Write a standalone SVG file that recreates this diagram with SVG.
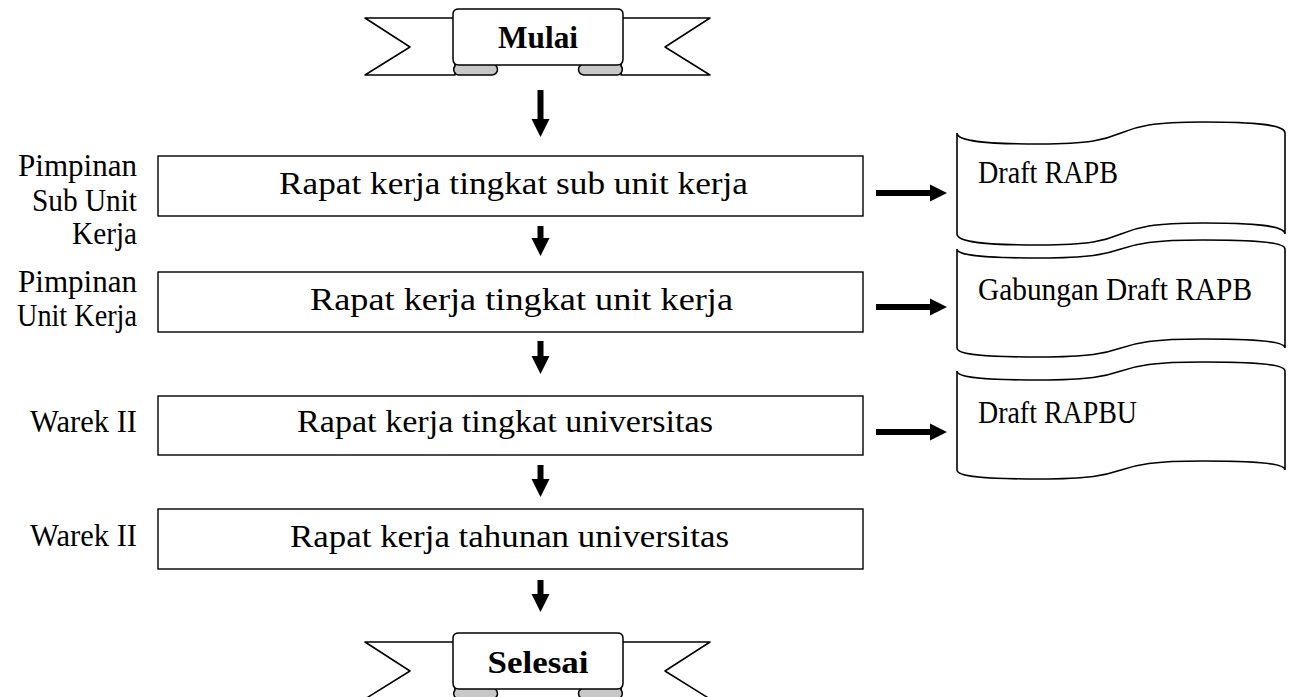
<svg xmlns="http://www.w3.org/2000/svg" width="1293" height="697" viewBox="0 0 1293 697">
<style>
text{font-family:"Liberation Serif","DejaVu Serif",serif;fill:#000}
.t{font-size:32px}
.lb{font-size:32px;text-anchor:end}
.b{font-size:32px;font-weight:bold;text-anchor:middle}
.box{fill:#fff;stroke:#000;stroke-width:1.4}
.doc{fill:#fff;stroke:#000;stroke-width:1.6}
.rib{fill:#fff;stroke:#000;stroke-width:1.5;stroke-linejoin:round}
.fold{fill:#c8c8c8;stroke:#000;stroke-width:1.5}
.arr{fill:#000}
</style>
<defs>
<g id="ribbon">
<path class="rib" d="M365,18 L455,18 L455,75 L365,75 L410,47 Z"/>
<path class="rib" d="M710,18 L621,18 L621,75 L710,75 L665,47 Z"/>
<path class="fold" d="M455,64 L492,64 A5.5,5.5 0 0 1 492,75 L459,75 A5.5,5.5 0 0 1 455,66 Z"/>
<path class="fold" d="M621,64 L584,64 A5.5,5.5 0 0 0 584,75 L617,75 A5.5,5.5 0 0 0 621,66 Z"/>
<path class="rib" d="M453,14 Q453,9 459,9 L617,9 Q623,9 623,14 L623,59 Q623,65 617,65 L459,65 Q453,65 453,59 Z"/>
</g>
</defs>

<g id="start">
<use href="#ribbon"/>
<text class="b" x="538" y="48" textLength="80" lengthAdjust="spacingAndGlyphs">Mulai</text>
</g>

<g id="end">
<use href="#ribbon" transform="translate(0,624)"/>
<text class="b" x="538" y="673" textLength="101" lengthAdjust="spacingAndGlyphs">Selesai</text>
</g>

<g id="step1">
<rect class="box" x="158" y="156" width="705" height="60"/>
<text class="t" x="279" y="194" textLength="469" lengthAdjust="spacingAndGlyphs">Rapat kerja tingkat sub unit kerja</text>
</g>
<g id="label1">
<text class="lb" x="137" y="176" textLength="119" lengthAdjust="spacingAndGlyphs">Pimpinan</text>
<text class="lb" x="137" y="211" textLength="105" lengthAdjust="spacingAndGlyphs">Sub Unit</text>
<text class="lb" x="137" y="244" textLength="65" lengthAdjust="spacingAndGlyphs">Kerja</text>
</g>

<g id="step2">
<rect class="box" x="158" y="272" width="705" height="60"/>
<text class="t" x="310" y="310" textLength="423" lengthAdjust="spacingAndGlyphs">Rapat kerja tingkat unit kerja</text>
</g>
<g id="label2">
<text class="lb" x="137" y="292" textLength="119" lengthAdjust="spacingAndGlyphs">Pimpinan</text>
<text class="lb" x="137" y="326" textLength="120" lengthAdjust="spacingAndGlyphs">Unit Kerja</text>
</g>

<g id="step3">
<rect class="box" x="158" y="396" width="705" height="59"/>
<text class="t" x="297" y="432" textLength="416" lengthAdjust="spacingAndGlyphs">Rapat kerja tingkat universitas</text>
</g>
<g id="label3">
<text class="lb" x="137" y="432" textLength="107" lengthAdjust="spacingAndGlyphs">Warek II</text>
</g>

<g id="step4">
<rect class="box" x="158" y="509" width="705" height="60"/>
<text class="t" x="290" y="547" textLength="439" lengthAdjust="spacingAndGlyphs">Rapat kerja tahunan universitas</text>
</g>
<g id="label4">
<text class="lb" x="137" y="546" textLength="107" lengthAdjust="spacingAndGlyphs">Warek II</text>
</g>

<g id="doc1">
<path class="doc" d="M957,133 C957,141.25 985,144 1040,144 C1090,144 1105,139.6 1121,133 C1137,126.4 1152,122 1203,122 C1255,122 1285,124.75 1285,133 L1285,234 C1285,225.75 1255,223 1203,223 C1152,223 1137,227.4 1121,234 C1105,240.6 1090,245 1040,245 C985,245 957,242.25 957,234 Z"/>
<text class="t" x="978" y="183" textLength="140" lengthAdjust="spacingAndGlyphs">Draft RAPB</text>
</g>
<g id="doc2">
<path class="doc" d="M957,249 C957,255.75 985,258 1040,258 C1090,258 1105,254.4 1121,249 C1137,243.6 1152,240 1203,240 C1255,240 1285,242.25 1285,249 L1285,348 C1285,341.25 1255,339 1203,339 C1152,339 1137,342.6 1121,348 C1105,353.4 1090,357 1040,357 C985,357 957,354.75 957,348 Z"/>
<text class="t" x="978" y="300" textLength="274" lengthAdjust="spacingAndGlyphs">Gabungan Draft RAPB</text>
</g>
<g id="doc3">
<path class="doc" d="M957,371 C957,377.75 985,380 1040,380 C1090,380 1105,376.4 1121,371 C1137,365.6 1152,362 1203,362 C1255,362 1285,364.25 1285,371 L1285,470 C1285,463.25 1255,461 1203,461 C1152,461 1137,464.6 1121,470 C1105,475.4 1090,479 1040,479 C985,479 957,476.75 957,470 Z"/>
<text class="t" x="978" y="423" textLength="159" lengthAdjust="spacingAndGlyphs">Draft RAPBU</text>
</g>

<g id="connectors">
<path class="arr" d="M537.5,90 H543.5 V119 H549.5 L540.5,137 L531.5,119 H537.5 Z"/>
<path class="arr" d="M537.5,226 H543.5 V238 H549.5 L540.5,256 L531.5,238 H537.5 Z"/>
<path class="arr" d="M537.5,341 H543.5 V356 H549.5 L540.5,374 L531.5,356 H537.5 Z"/>
<path class="arr" d="M537.5,465 H543.5 V479 H549.5 L540.5,497 L531.5,479 H537.5 Z"/>
<path class="arr" d="M537.5,580 H543.5 V594 H549.5 L540.5,612 L531.5,594 H537.5 Z"/>
<path class="arr" d="M876,190 H930 V184.5 L947,193 L930,201.5 V196 H876 Z"/>
<path class="arr" d="M876,304 H930 V298.5 L947,307 L930,315.5 V310 H876 Z"/>
<path class="arr" d="M876,429 H930 V423.5 L947,432 L930,440.5 V435 H876 Z"/>
</g>
</svg>
